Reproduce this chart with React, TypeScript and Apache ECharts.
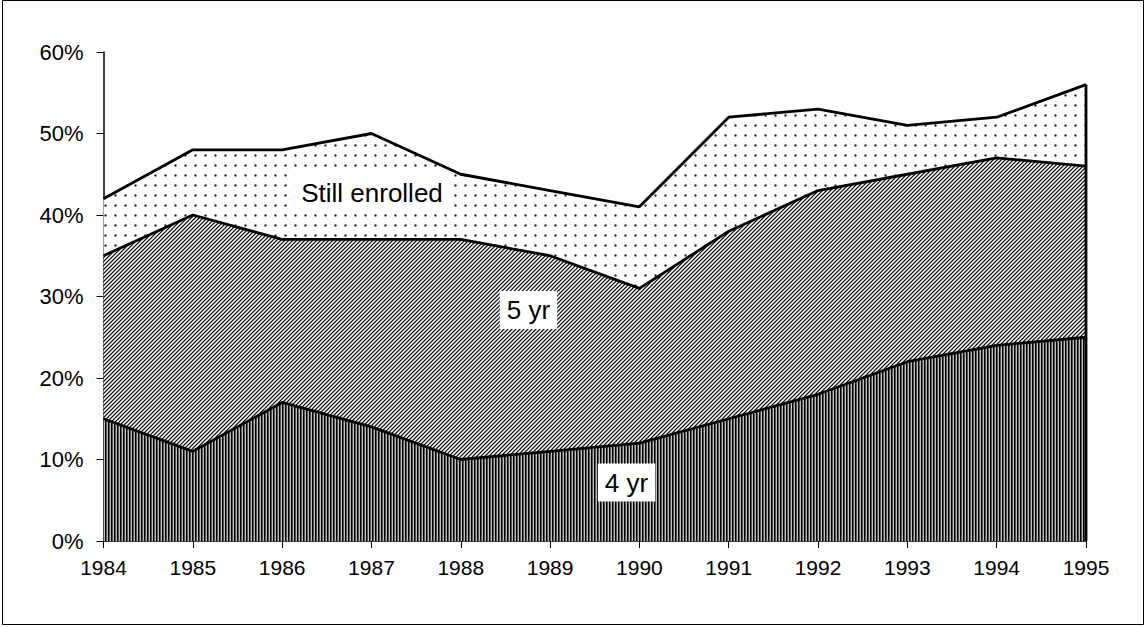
import React, { useEffect, useRef } from "react";
import * as echarts from "echarts";

const years = ["1984", "1985", "1986", "1987", "1988", "1989", "1990", "1991", "1992", "1993", "1994", "1995"];
const fourYr = [15, 11, 17, 14, 10, 11, 12, 15, 18, 22, 24, 25];
const fiveYr = [20, 29, 20, 23, 27, 24, 19, 23, 25, 23, 23, 21];
const stillEnrolled = [7, 8, 11, 13, 8, 8, 10, 14, 10, 6, 5, 10];
const yTicks = [0, 10, 20, 30, 40, 50, 60];

function makeTile(w: number, h: number, fn: (x: number, y: number) => string | null) {
  const c = document.createElement("canvas");
  c.width = w;
  c.height = h;
  const ctx = c.getContext("2d")!;
  ctx.fillStyle = "#fff";
  ctx.fillRect(0, 0, w, h);
  for (let y = 0; y < h; y++) {
    for (let x = 0; x < w; x++) {
      const col = fn(x, y);
      if (col) {
        ctx.fillStyle = col;
        ctx.fillRect(x, y, 1, 1);
      }
    }
  }
  return { image: c, repeat: "repeat", imageWidth: w, imageHeight: h } as any;
}

export default function App() {
  const ref = useRef<HTMLDivElement>(null);
  useEffect(() => {
    document.body.style.margin = "0";
    const chart = echarts.init(ref.current!, null, { renderer: "svg" });
    const stripes = makeTile(3, 3, (x) => ["#000", "#555", "#bdbdbd"][x]);
    const diag = makeTile(4, 4, (x, y) => {
      const d = (x + y) % 4;
      return d === 0 ? "#111" : d === 1 ? "#888" : d === 3 ? "#bbb" : null;
    });
    const dots = makeTile(10, 10, (x, y) => {
      if (x === 5 && y === 5) return "#111";
      if ((Math.abs(x - 5) + Math.abs(y - 5)) === 1) return "#777";
      if (Math.abs(x - 5) === 1 && Math.abs(y - 5) === 1) return "#ccc";
      return null;
    });
    const last = years.length - 1;
    const total = fourYr[last] + fiveYr[last] + stillEnrolled[last];
    const font = "Liberation Sans, Arial, sans-serif";
    const labelStyle = (text: string) => ({
      text,
      fill: "#000",
      font: `26px ${font}`,
      backgroundColor: "#fff",
      padding: [6, 7, 6, 7],
      align: "center",
      verticalAlign: "middle",
    });
    chart.setOption({
      animation: false,
      backgroundColor: "#fff",
      grid: { left: 103.5, right: 60, top: 52, bottom: 86 },
      xAxis: {
        type: "category",
        data: years,
        boundaryGap: false,
        axisLine: { lineStyle: { color: "#000", width: 1.5 } },
        axisTick: { show: true, length: 7, alignWithLabel: true, lineStyle: { color: "#000" } },
        axisLabel: { color: "#000", fontSize: 21, fontFamily: font, margin: 16 },
        splitLine: { show: false },
      },
      yAxis: {
        type: "value",
        min: yTicks[0],
        max: yTicks[yTicks.length - 1],
        interval: 10,
        axisLine: { show: true, lineStyle: { color: "#000", width: 1.5 } },
        axisTick: { show: true, length: 7, lineStyle: { color: "#000" } },
        axisLabel: { color: "#000", fontSize: 22, fontFamily: font, margin: 20, formatter: "{value}%" },
        splitLine: { show: false },
      },
      series: [
        {
          name: "4 yr",
          type: "line",
          stack: "t",
          data: fourYr,
          symbol: "none",
          lineStyle: { color: "#000", width: 2.8 },
          areaStyle: { color: stripes, opacity: 1 },
          emphasis: { disabled: true },
        },
        {
          name: "5 yr",
          type: "line",
          stack: "t",
          data: fiveYr,
          symbol: "none",
          lineStyle: { color: "#000", width: 2.8 },
          areaStyle: { color: diag, opacity: 1 },
          emphasis: { disabled: true },
        },
        {
          name: "Still enrolled",
          type: "line",
          stack: "t",
          data: stillEnrolled,
          symbol: "none",
          lineStyle: { color: "#000", width: 2.8 },
          areaStyle: { color: dots, opacity: 1 },
          emphasis: { disabled: true },
        },
        {
          name: "edge",
          type: "line",
          data: [[last, 0], [last, total]],
          symbol: "none",
          lineStyle: { color: "#000", width: 2.8 },
          emphasis: { disabled: true },
        },
      ],
      graphic: [
        {
          type: "rect",
          shape: { x: 2.5, y: 0.5, width: 1141, height: 624 },
          style: { fill: "none", stroke: "#000", lineWidth: 1 },
          z: 100,
        },
        { type: "text", x: 372, y: 192.5, style: labelStyle("Still enrolled"), z: 100 },
        { type: "text", x: 528.5, y: 310, style: labelStyle("5 yr"), z: 100 },
        { type: "text", x: 626.5, y: 482.5, style: labelStyle("4 yr"), z: 100 },
      ],
    });
    return () => chart.dispose();
  }, []);
  return <div ref={ref} style={{ width: 1146, height: 627 }} />;
}
